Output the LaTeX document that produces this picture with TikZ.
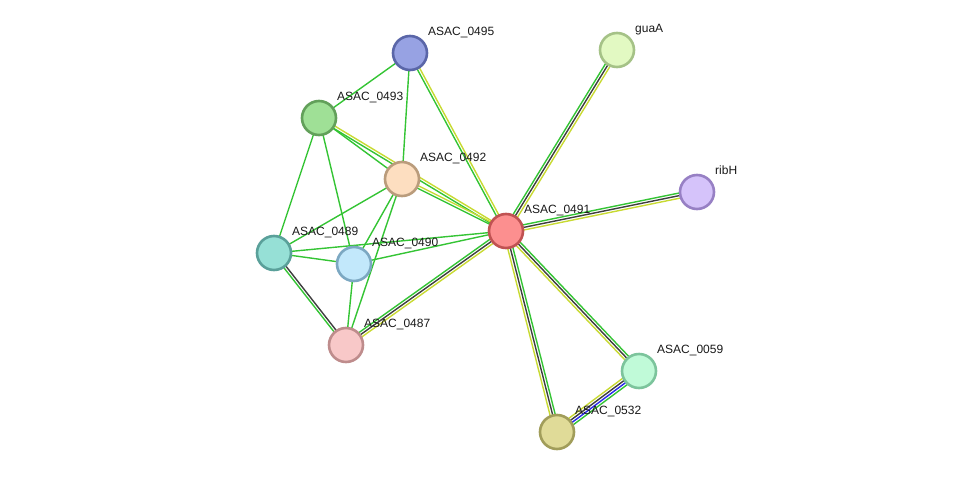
\documentclass[tikz,border=0pt]{standalone}
\usepackage{fontspec}
\setmainfont{Liberation Sans}
\usetikzlibrary{calc,backgrounds}
\definecolor{eg}{RGB}{52,196,52}
\definecolor{ek}{RGB}{62,62,62}
\definecolor{ey}{RGB}{200,218,50}
\definecolor{eb}{RGB}{40,40,235}
\tikzset{
  bub/.style 2 args={circle,draw=#2,fill=#1,line width=2.6pt,minimum size=34pt,inner sep=0pt},
  lbl/.style={font=\fontsize{12}{14}\selectfont,text=black!90,anchor=base west,inner sep=0pt},
}
% one line per evidence channel, side by side
\newcommand{\link}[4]{%
  \foreach \c [count=\i] in {#4}{%
    \pgfmathsetmacro\off{((#3+1)/2-\i)*2.6}
    \draw[\c,line width=1.4pt] ($(#1)!\off pt!90:(#2)$) -- ($(#2)!\off pt!-90:(#1)$);
  }}

\begin{document}
\begin{tikzpicture}[x=1pt,y=-1pt]
  \useasboundingbox (0,0) rectangle (975,477);
  \foreach \id/\x/\y/\t/\f/\d in {
      a495/410/53/ASAC\_0495/97A2E3/5A66A8,
      guaA/617/50/guaA/E2F9C2/A5C287,
      a493/319/118/ASAC\_0493/9FE096/62A05A,
      a492/402/179/ASAC\_0492/FDDEC0/BA9C7C,
      ribH/697/192/ribH/D5C3FA/9780C4,
      a491/506/231/ASAC\_0491/FC8F8F/C05252,
      a489/274/253/ASAC\_0489/96E0D6/5AA09A,
      a490/354/264/ASAC\_0490/C2E8FB/7CA8C2,
      a487/346/345/ASAC\_0487/F8C8C8/BE8C8C,
      a0059/639/371/ASAC\_0059/C0FAD8/7CC49C,
      a0532/557/432/ASAC\_0532/E0DB98/A19D5A}{
    \definecolor{fc}{HTML}{\f}\definecolor{dc}{HTML}{\d}
    \node[bub={fc}{dc}] (\id) at (\x,\y) {};
    \node[lbl] (t\id) at ($(\id)+(18,-18)$) {\t};
  }
  \begin{scope}[on background layer]
    \link{a491}{guaA}{3}{eg,ek,ey}
    \link{a491}{ribH}{3}{eg,ek,ey}
    \link{a491}{a0059}{3}{eg,ek,ey}
    \link{a491}{a0532}{3}{eg,ek,ey}
    \link{a0059}{a0532}{4}{eg,eb,ek,ey}
    \link{a491}{a487}{3}{ey,ek,eg}
    \link{a491}{a495}{2}{eg,ey}
    \link{a491}{a493}{2}{eg,ey}
    \link{a491}{a492}{2}{eg,ey}
    \link{a491}{a490}{1}{eg}
    \link{a491}{a489}{1}{eg}
    \link{a495}{a493}{1}{eg}
    \link{a495}{a492}{1}{eg}
    \link{a493}{a492}{1}{eg}
    \link{a493}{a489}{1}{eg}
    \link{a493}{a490}{1}{eg}
    \link{a492}{a489}{1}{eg}
    \link{a492}{a490}{1}{eg}
    \link{a492}{a487}{1}{eg}
    \link{a489}{a490}{1}{eg}
    \link{a489}{a487}{2}{ek,eg}
    \link{a490}{a487}{1}{eg}
  \end{scope}
\end{tikzpicture}
\end{document}
